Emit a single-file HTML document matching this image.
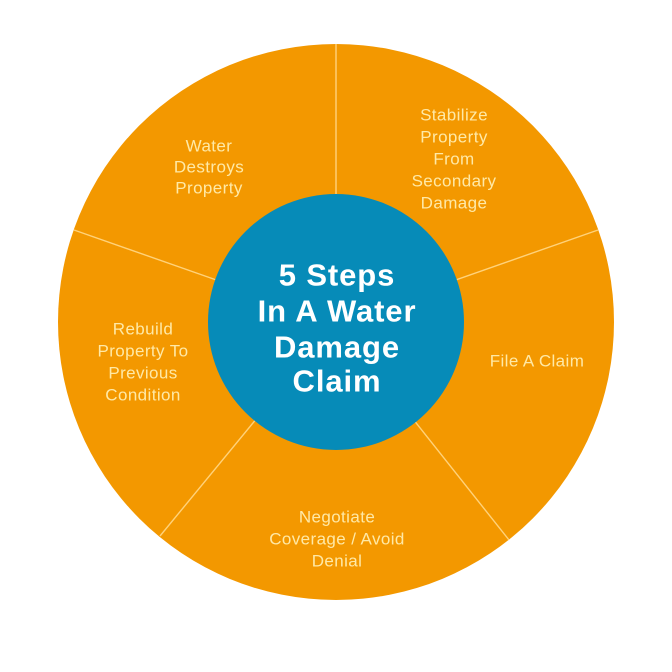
<!DOCTYPE html>
<html>
<head>
<meta charset="utf-8">
<style>
  html, body { margin:0; padding:0; background:#ffffff; }
  body { width:672px; height:672px; overflow:hidden; }
  svg { display:block; }
  .lbl { font-family:"Liberation Sans", sans-serif; font-size:17px; fill:#FFE9A6; text-anchor:middle; dominant-baseline:central; letter-spacing:0.4px; }
  .ttl { font-family:"Liberation Sans", sans-serif; font-size:31px; font-weight:bold; fill:#ffffff; text-anchor:middle; dominant-baseline:central; letter-spacing:0.9px; }
</style>
</head>
<body>
<svg width="672" height="672" viewBox="0 0 672 672" xmlns="http://www.w3.org/2000/svg">
  <circle cx="336" cy="322" r="278" fill="#F39800"/>
  <g stroke="#FFD27A" stroke-width="1.4">
    <line x1="336" y1="322" x2="336" y2="44"/>
    <line x1="336" y1="322" x2="598" y2="230"/>
    <line x1="336" y1="322" x2="509" y2="540"/>
    <line x1="336" y1="322" x2="160" y2="536"/>
    <line x1="336" y1="322" x2="74" y2="230"/>
  </g>
  <circle cx="336" cy="322" r="128" fill="#068BB8"/>

  <text class="ttl" x="337" y="275">5 Steps</text>
  <text class="ttl" x="337" y="311">In A Water</text>
  <text class="ttl" x="337" y="347">Damage</text>
  <text class="ttl" x="337" y="381">Claim</text>

  <text class="lbl" x="209" y="146">Water</text>
  <text class="lbl" x="209" y="167">Destroys</text>
  <text class="lbl" x="209" y="188">Property</text>

  <text class="lbl" x="454" y="115">Stabilize</text>
  <text class="lbl" x="454" y="137">Property</text>
  <text class="lbl" x="454" y="159">From</text>
  <text class="lbl" x="454" y="181">Secondary</text>
  <text class="lbl" x="454" y="203">Damage</text>

  <text class="lbl" x="537" y="361">File A Claim</text>

  <text class="lbl" x="337" y="517">Negotiate</text>
  <text class="lbl" x="337" y="539">Coverage / Avoid</text>
  <text class="lbl" x="337" y="561">Denial</text>

  <text class="lbl" x="143" y="329">Rebuild</text>
  <text class="lbl" x="143" y="351">Property To</text>
  <text class="lbl" x="143" y="373">Previous</text>
  <text class="lbl" x="143" y="395">Condition</text>
</svg>
</body>
</html>
